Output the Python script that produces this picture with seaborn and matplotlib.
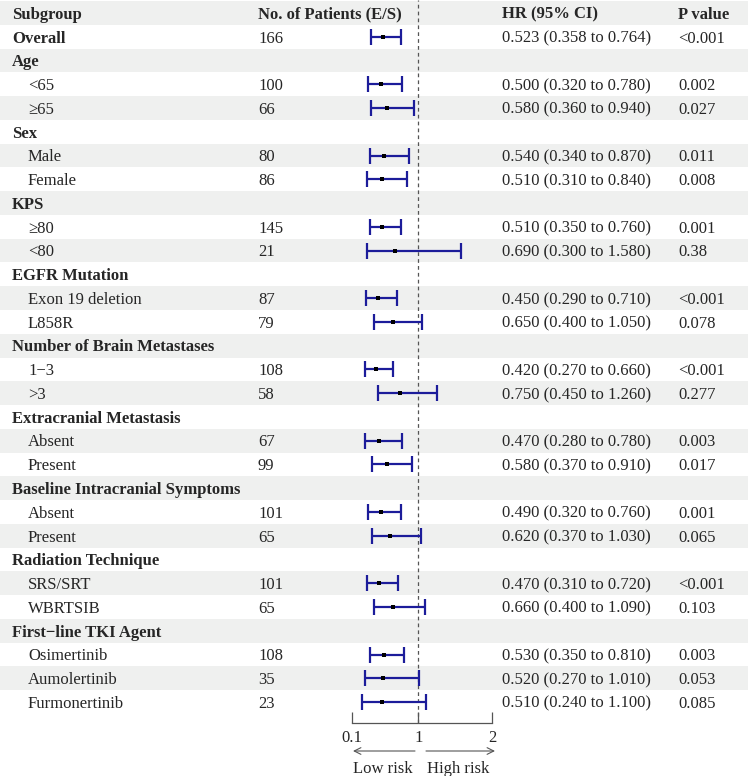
import numpy as np
import pandas as pd
import matplotlib
matplotlib.use("Agg")
import matplotlib.pyplot as plt
import seaborn as sns

# ---------------- data ----------------
labels = ["Overall", "Age", "<65", "≥65", "Sex", "Male", "Female", "KPS", "≥80", "<80",
          "EGFR Mutation", "Exon 19 deletion", "L858R", "Number of Brain Metastases", "1−3", ">3",
          "Extracranial Metastasis", "Absent", "Present", "Baseline Intracranial Symptoms",
          "Absent", "Present", "Radiation Technique", "SRS/SRT", "WBRTSIB",
          "First−line TKI Agent", "Osimertinib", "Aumolertinib", "Furmonertinib"]
is_header = [True, True, False, False, True, False, False, True, False, False,
             True, False, False, True, False, False,
             True, False, False, True,
             False, False, True, False, False,
             True, False, False, False]
n_patients = ["166", "", "100", "66", "", "80", "86", "", "145", "21",
              "", "87", "79", "", "108", "58",
              "", "67", "99", "",
              "101", "65", "", "101", "65",
              "", "108", "35", "23"]
hr = [0.523, None, 0.500, 0.580, None, 0.540, 0.510, None, 0.510, 0.690,
      None, 0.450, 0.650, None, 0.420, 0.750,
      None, 0.470, 0.580, None,
      0.490, 0.620, None, 0.470, 0.660,
      None, 0.530, 0.520, 0.510]
ci_low = [0.358, None, 0.320, 0.360, None, 0.340, 0.310, None, 0.350, 0.300,
          None, 0.290, 0.400, None, 0.270, 0.450,
          None, 0.280, 0.370, None,
          0.320, 0.370, None, 0.310, 0.400,
          None, 0.350, 0.270, 0.240]
ci_high = [0.764, None, 0.780, 0.940, None, 0.870, 0.840, None, 0.760, 1.580,
           None, 0.710, 1.050, None, 0.660, 1.260,
           None, 0.780, 0.910, None,
           0.760, 1.030, None, 0.720, 1.090,
           None, 0.810, 1.010, 1.100]
p_values = ["<0.001", "", "0.002", "0.027", "", "0.011", "0.008", "", "0.001", "0.38",
            "", "<0.001", "0.078", "", "<0.001", "0.277",
            "", "0.003", "0.017", "",
            "0.001", "0.065", "", "<0.001", "0.103",
            "", "0.003", "0.053", "0.085"]
col_headers = ["Subgroup", "No. of Patients (E/S)", "HR (95% CI)", "P value"]
x_ticks = [0.1, 1, 2]
x_ticklabels = ["0.1", "1", "2"]

# ---------------- style ----------------
sns.set_theme(style="white")
plt.rcParams["font.family"] = ["Liberation Serif", "DejaVu Serif"]
FS = 12
NAVY = "#1c1c9a"
STRIPE = "#eff0ef"

W, H = 748, 776
fig = plt.figure(figsize=(W / 100, H / 100), dpi=100)
fig.patch.set_facecolor("white")

# background / table axes in pixel coordinates
bg = fig.add_axes([0, 0, 1, 1])
bg.set_xlim(0, W)
bg.set_ylim(H, 0)
bg.axis("off")

row0 = 13.0
step = 23.76
toff = 1.8  # text vertical offset
n_rows = len(labels) + 1  # include header row
for i in range(n_rows):
    if i % 2 == 0:
        yc = row0 + step * i
        bg.axhspan(yc - step / 2, yc + step / 2, color=STRIPE, lw=0, zorder=0)

x_sub, x_ind, x_n, x_hr, x_p = 12, 28, 258, 502, 678
hdr_x = [x_sub, x_n, x_hr, x_p]
for hx, ht in zip(hdr_x, col_headers):
    bg.text(hx, row0 + toff, ht, fontsize=FS, fontweight="bold", va="center", ha="left")

for k, lab in enumerate(labels):
    yc = row0 + step * (k + 1) + toff
    if is_header[k]:
        bg.text(x_sub, yc, lab, fontsize=FS, fontweight="bold", va="center", ha="left")
    else:
        bg.text(x_ind, yc, lab, fontsize=FS, va="center", ha="left")
    if n_patients[k]:
        bg.text(x_n, yc, n_patients[k], fontsize=FS, va="center", ha="left")
    if hr[k] is not None:
        bg.text(x_hr, yc, f"{hr[k]:.3f} ({ci_low[k]:.3f} to {ci_high[k]:.3f})",
                fontsize=FS, va="center", ha="left")
    if p_values[k]:
        bg.text(x_p, yc, p_values[k], fontsize=FS, va="center", ha="left")

# ---------------- forest axes ----------------
ax_bottom_px = 723
fx0, fx1 = 352, 492
ax = fig.add_axes([fx0 / W, (H - ax_bottom_px) / H, (fx1 - fx0) / W, ax_bottom_px / H])
ax.set_facecolor("none")
ax.patch.set_alpha(0)

df = pd.DataFrame({"label": labels, "hr": hr, "lo": ci_low, "hi": ci_high})
df["row"] = np.arange(1, len(labels) + 1)
d = df.dropna(subset=["hr"]).astype({"hr": float, "lo": float, "hi": float})

ax.errorbar(d["hr"], d["row"], xerr=[d["hr"] - d["lo"], d["hi"] - d["hr"]],
            fmt="none", ecolor=NAVY, elinewidth=1.6, capsize=5.5, capthick=1.6, zorder=2)
sns.scatterplot(data=d, x="hr", y="row", marker="s", color="black", s=12,
                linewidth=0, ax=ax, zorder=3, legend=False)

ax.axvline(1, color="#555555", lw=0.9, ls=(0, (3, 2.5)), zorder=1)

ax.set_xlim(0.1, 2)
ax.set_ylim((ax_bottom_px - row0) / step, (0 - row0) / step)
for s in ["top", "right", "left"]:
    ax.spines[s].set_visible(False)
ax.spines["bottom"].set_color("#555555")
ax.spines["bottom"].set_linewidth(0.9)
ax.set_yticks([])
ax.set_xticks(x_ticks)
ax.set_xticklabels(x_ticklabels, fontsize=FS)
ax.tick_params(axis="x", direction="in", length=8, width=0.9, color="#555555", pad=5,
               bottom=True)
ax.set_xlabel("")
ax.set_ylabel("")

# risk arrows
arrow_y = 751
bg.annotate("", xy=(353, arrow_y), xytext=(415, arrow_y),
            arrowprops=dict(arrowstyle="->", color="#555555", lw=0.8, shrinkA=0, shrinkB=0))
bg.annotate("", xy=(495, arrow_y), xytext=(426, arrow_y),
            arrowprops=dict(arrowstyle="->", color="#555555", lw=0.8, shrinkA=0, shrinkB=0))
bg.text(383, 767 + toff, "Low risk", fontsize=FS, ha="center", va="center")
bg.text(458, 767 + toff, "High risk", fontsize=FS, ha="center", va="center")

fig.savefig("out.png", dpi=100)
